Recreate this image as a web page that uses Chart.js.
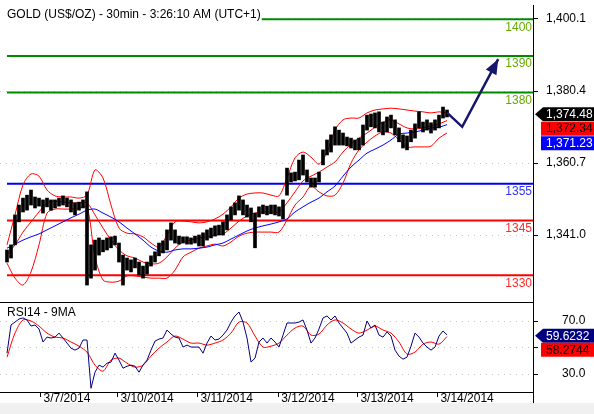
<!DOCTYPE html>
<html>
<head>
<meta charset="utf-8">
<script src="https://cdn.jsdelivr.net/npm/chart.js@4"></script>
<style>
  html, body { margin: 0; padding: 0; background: #fff; }
  #wrap { position: relative; width: 594px; height: 414px; overflow: hidden; }
  canvas { position: absolute; left: 0; }
  #price { top: 0; }
  #rsi { top: 302px; }
</style>
</head>
<body>
<div id="wrap">
  <canvas id="price" width="594" height="302"></canvas>
  <canvas id="rsi" width="594" height="112"></canvas>
</div>
<script>
// 30min bars, one sample every ~70 min (x = sample index)
const priceHigh = [1336.9,1338.3,1346.5,1349.2,1351.1,1351.9,1353.3,1351.4,1351.1,1350.6,
  1351.1,1350.6,1350.6,1351.1,1351.7,1351.1,1350.6,1349.8,1350.0,1350.6,
  1352.8,1338.3,1339.6,1340.2,1339.6,1340.2,1340.5,1340.7,1338.8,1335.5,
  1334.7,1334.2,1334.7,1333.6,1332.5,1333.6,1335.3,1336.4,1338.8,1339.4,
  1342.4,1344.3,1342.4,1340.7,1340.5,1340.5,1340.2,1340.7,1341.0,1341.6,
  1342.4,1342.9,1343.5,1343.7,1344.6,1346.5,1348.7,1349.8,1351.7,1350.6,
  1349.2,1348.4,1347.0,1348.7,1349.2,1348.9,1349.2,1349.2,1348.7,1350.6,
  1359.3,1358.0,1358.2,1361.5,1362.9,1358.8,1356.6,1356.6,1358.2,1364.3,
  1367.0,1368.4,1370.6,1369.7,1368.9,1367.8,1367.5,1367.0,1367.5,1371.1,
  1373.8,1374.1,1374.4,1374.7,1371.9,1373.3,1373.8,1372.5,1370.3,1368.4,
  1368.1,1369.7,1371.4,1374.7,1371.9,1372.5,1371.7,1372.5,1373.8,1376.0,
  1375.2];
const priceLow = [1333.6,1334.7,1338.3,1344.6,1347.3,1347.8,1349.2,1348.4,1348.9,1347.0,
  1348.7,1347.8,1348.4,1348.9,1349.2,1348.7,1347.3,1346.5,1347.8,1348.4,
  1327.3,1329.2,1331.4,1335.5,1336.4,1336.9,1337.5,1338.3,1333.6,1327.3,
  1331.4,1330.9,1332.0,1330.1,1329.2,1330.3,1332.5,1333.6,1335.3,1336.1,
  1336.9,1339.6,1338.8,1338.5,1338.8,1338.5,1338.5,1338.8,1338.0,1338.0,
  1339.6,1340.2,1340.7,1341.0,1341.0,1342.4,1345.1,1346.5,1347.8,1346.5,
  1345.9,1344.6,1337.5,1345.9,1346.8,1346.5,1346.8,1346.5,1346.2,1345.4,
  1351.9,1355.5,1355.8,1356.1,1357.4,1355.5,1354.1,1354.1,1355.5,1360.2,
  1362.9,1363.7,1365.6,1365.6,1365.6,1365.4,1364.8,1364.3,1364.3,1365.6,
  1369.7,1370.6,1370.3,1369.2,1368.4,1369.2,1370.3,1368.4,1366.5,1364.8,
  1364.3,1366.5,1367.5,1370.3,1369.2,1369.7,1368.9,1369.7,1370.3,1373.0,
  1373.3];

// bands and MA, one sample every 2 price samples
const upperBand = [1338.3,1346.5,1354.7,1357.7,1357.1,1353.3,1351.7,1351.4,1351.4,1351.1,
  1351.9,1358.8,1356.6,1349.2,1342.9,1341.5,1341.3,1340.5,1338.8,1337.7,
  1341.0,1344.6,1344.8,1344.6,1344.3,1344.6,1345.4,1346.7,1348.7,1351.1,
  1352.2,1352.5,1352.5,1351.9,1351.7,1356.6,1362.1,1363.7,1362.3,1360.4,
  1363.7,1369.7,1372.5,1373.0,1373.0,1374.4,1375.2,1375.5,1375.7,1375.5,
  1375.2,1374.9,1374.7,1374.4,1374.7,1374.4];
const middleBand = [1335.5,1338.3,1341.8,1344.6,1347.3,1349.8,1350.3,1350.0,1349.8,1349.8,
  1349.8,1346.5,1342.9,1339.6,1336.9,1335.3,1334.7,1333.6,1333.1,1333.3,
  1335.0,1337.4,1339.1,1339.6,1340.2,1340.5,1341.0,1341.3,1342.9,1344.8,
  1346.2,1347.0,1347.3,1347.3,1347.3,1349.8,1352.8,1355.8,1357.1,1358.2,
  1359.6,1361.0,1363.7,1365.9,1367.5,1368.9,1370.5,1371.9,1372.5,1371.4,
  1370.3,1370.0,1370.3,1370.8,1371.4,1372.3];
const lowerBand = [1333.3,1329.2,1327.3,1330.9,1338.3,1347.0,1348.1,1348.1,1348.1,1348.4,
  1348.7,1335.0,1328.7,1328.1,1328.4,1329.8,1329.8,1329.5,1329.2,1329.2,
  1329.2,1331.4,1335.0,1336.3,1337.4,1338.0,1338.5,1338.0,1339.1,1340.7,
  1341.5,1341.8,1341.8,1341.8,1341.8,1345.1,1349.2,1351.4,1354.4,1352.8,
  1351.7,1351.9,1355.2,1360.7,1364.3,1366.4,1368.1,1369.2,1368.9,1367.0,
  1365.1,1365.1,1365.1,1365.3,1367.5,1368.9];
const blueMA = [1337.4,1338.5,1339.6,1340.5,1341.3,1342.4,1343.5,1344.6,1345.7,1346.7,
  1347.8,1348.1,1347.0,1345.9,1344.6,1342.9,1341.3,1339.6,1337.7,1336.6,
  1336.3,1336.9,1337.2,1337.2,1337.4,1337.7,1338.3,1338.8,1339.9,1341.0,
  1342.1,1342.9,1343.5,1344.0,1344.6,1345.4,1347.3,1348.7,1350.0,1351.1,
  1352.8,1354.4,1357.1,1359.6,1361.5,1363.4,1364.5,1365.6,1367.0,1368.6,
  1368.9,1369.2,1369.7,1370.3,1370.5,1371.2];

const rsi = [45.8,67.0,69.2,71.5,72.3,70.8,66.2,67.0,64.0,54.2,
  57.9,57.2,57.9,60.9,57.2,53.4,49.6,48.1,49.6,55.7,
  55.7,19.4,31.5,36.8,35.3,38.3,39.1,45.8,40.6,34.5,
  36.0,36.8,36.0,31.5,36.8,40.6,48.1,54.9,56.4,57.2,
  63.2,60.2,57.9,57.2,50.4,51.9,50.4,50.4,50.4,45.8,
  53.4,58.7,55.7,56.4,59.4,63.2,69.2,73.8,76.8,69.2,
  57.2,39.1,42.1,54.2,57.2,53.4,57.2,54.2,50.4,59.4,
  68.5,68.5,68.5,69.2,70.8,63.2,53.4,57.2,64.0,72.3,
  73.8,70.8,73.8,68.5,64.7,60.9,53.4,55.7,57.9,59.4,
  70.0,64.7,67.0,59.4,57.9,61.7,58.7,48.1,43.6,41.3,
  42.8,51.1,60.9,57.9,53.4,50.4,48.1,50.4,58.7,62.5,
  59.6];
const rsiMA = [42.8,60.9,70.8,70.0,66.2,60.9,57.9,57.2,54.2,51.1,
  46.6,36.8,32.3,40.6,42.1,38.3,35.3,36.8,43.6,49.6,
  54.2,58.7,56.4,53.4,53.4,51.9,53.4,55.7,60.9,69.2,
  68.5,58.7,50.4,51.1,53.4,59.4,64.7,66.2,59.4,60.2,
  67.0,70.8,68.5,64.0,60.9,63.2,66.2,63.2,60.9,54.2,
  45.1,46.6,52.6,54.2,52.6,58.3];

const dayTicks = [8.4, 27.6, 47.6, 67.8, 87.6, 107.6];
const dayLabels = ['3/7/2014', '3/10/2014', '3/11/2014', '3/12/2014', '3/13/2014', '3/14/2014'];
const priceTicks = [1341.0, 1360.7, 1380.4, 1400.1];
const rsiTicks = [30, 50, 70];
const levels = [1400, 1390, 1380, 1355, 1345, 1330];
const levelColors = ['#008a00', '#008a00', '#008a00', '#0000ee', '#ff0000', '#ff0000'];
const levelTextColors = ['#66aa00', '#66aa00', '#66aa00', '#3333ff', '#ff2a2a', '#ff2a2a'];
const priceTags = [1374.48, 1372.34, 1371.23];
const rsiTags = [59.6232, 58.2744];
const arrowX = [110, 113.8, 122.8];
const arrowY = [1374.5, 1370.6, 1389.1];

const FONT = "'Liberation Sans', Arial, sans-serif";
Chart.defaults.font.family = FONT;
Chart.defaults.font.size = 12;
Chart.defaults.color = '#000';

const xMin = -1.75, xMax = 131.5;
const fmt = (v, d) => v.toLocaleString('en-US', {minimumFractionDigits: d, maximumFractionDigits: d});
const series = (ys, step) => ys.map((y, i) => ({x: i * step, y: y}));
const noPad = s => { s.paddingTop = 0; s.paddingBottom = 0; s.paddingLeft = 0; s.paddingRight = 0; };

function tag(ctx, y, text, bg, fg, arrow) {
  const h = 14;
  ctx.fillStyle = bg;
  ctx.beginPath();
  if (arrow) {
    ctx.moveTo(535, y);
    ctx.lineTo(543, y - h / 2);
    ctx.lineTo(594, y - h / 2);
    ctx.lineTo(594, y + h / 2);
    ctx.lineTo(543, y + h / 2);
  } else {
    ctx.rect(541, y - h / 2, 53, h);
  }
  ctx.closePath();
  ctx.fill();
  ctx.fillStyle = fg;
  ctx.textAlign = 'left';
  ctx.textBaseline = 'middle';
  ctx.fillText(text, 546, y + 0.5);
}

const priceDecor = {
  id: 'priceDecor',
  afterDraw(chart) {
    const {ctx, chartArea} = chart;
    const xs = chart.scales.x, ys = chart.scales.y;
    ctx.save();
    // arrow head
    const n = arrowX.length;
    const ax = xs.getPixelForValue(arrowX[n - 1]), ay = ys.getPixelForValue(arrowY[n - 1]);
    const bx = xs.getPixelForValue(arrowX[n - 2]), by = ys.getPixelForValue(arrowY[n - 2]);
    const a = Math.atan2(ay - by, ax - bx);
    const len = 15, half = 6;
    ctx.fillStyle = '#16166b';
    ctx.beginPath();
    ctx.moveTo(ax, ay);
    ctx.lineTo(ax - len * Math.cos(a) + half * Math.sin(a), ay - len * Math.sin(a) - half * Math.cos(a));
    ctx.lineTo(ax - len * Math.cos(a) - half * Math.sin(a), ay - len * Math.sin(a) + half * Math.cos(a));
    ctx.closePath();
    ctx.fill();

    // level labels
    ctx.font = '12px ' + FONT;
    ctx.textAlign = 'right';
    ctx.textBaseline = 'alphabetic';
    levels.forEach((v, i) => {
      ctx.fillStyle = levelTextColors[i];
      ctx.fillText(String(v), chartArea.right - 1, ys.getPixelForValue(v) + 11.5);
    });

    // title
    const title = 'GOLD (US$/OZ) - 30min - 3:26:10 AM (UTC+1)';
    const w = ctx.measureText(title).width;
    ctx.fillStyle = '#fff';
    ctx.fillRect(0, 0, 7 + w + 1, 21);
    ctx.fillStyle = '#000';
    ctx.textAlign = 'left';
    ctx.fillText(title, 7, 18);

    // last value tags
    const styles = [['#000', '#fff', true], ['#ff0000', '#000', false], ['#0000ff', '#fff', false]];
    let prev = -100;
    priceTags.forEach((v, i) => {
      const y = Math.max(ys.getPixelForValue(v) + 1.5, prev + 14.5);
      prev = y;
      tag(ctx, y, fmt(v, 2), styles[i][0], styles[i][1], styles[i][2]);
    });
    ctx.restore();
  }
};

const rsiDecor = {
  id: 'rsiDecor',
  beforeDraw(chart) {
    const ctx = chart.ctx;
    ctx.save();
    ctx.fillStyle = '#f0f0f0';
    ctx.fillRect(0, 101, 594, 11);
    ctx.restore();
  },
  afterDraw(chart) {
    const {ctx, chartArea} = chart;
    const ys = chart.scales.y;
    ctx.save();
    ctx.strokeStyle = '#000';
    ctx.lineWidth = 1;
    ctx.beginPath();
    ctx.moveTo(0, 0.5);
    ctx.lineTo(chartArea.right + 1, 0.5);
    ctx.moveTo(chartArea.right + 0.5, chartArea.bottom);
    ctx.lineTo(chartArea.right + 0.5, 101);
    ctx.stroke();

    ctx.font = '12px ' + FONT;
    ctx.fillStyle = '#000';
    ctx.textAlign = 'left';
    ctx.textBaseline = 'alphabetic';
    ctx.fillText('RSI14 - 9MA', 7, 13.7);

    const styles = [['#000080', '#fff', true], ['#ff0000', '#000', false]];
    let prev = -100;
    rsiTags.forEach((v, i) => {
      const y = Math.max(ys.getPixelForValue(v) + 1, prev + 14);
      prev = y;
      tag(ctx, y, v.toFixed(4), styles[i][0], styles[i][1], styles[i][2]);
    });
    ctx.restore();
  }
};

const levelSets = levels.map((v, i) => ({
  type: 'line',
  data: [{x: 0, y: v}, {x: xMax, y: v}],
  borderColor: levelColors[i],
  borderWidth: 2,
  pointRadius: 0,
  order: 6
}));

const bandLine = (ys, color, order) => ({
  type: 'line',
  data: series(ys, 2),
  borderColor: color,
  borderWidth: 1,
  pointRadius: 0,
  tension: 0.3,
  order: order
});

new Chart(document.getElementById('price'), {
  type: 'line',
  data: {
    datasets: [
      ...levelSets,
      bandLine(upperBand, '#ff0000', 5),
      bandLine(middleBand, '#ff0000', 5),
      bandLine(lowerBand, '#ff0000', 5),
      bandLine(blueMA, '#0000ff', 4),
      {
        type: 'bar',
        data: priceHigh.map((h, i) => ({x: i, y: [priceLow[i], h]})),
        backgroundColor: '#000',
        barThickness: 3,
        order: 2
      },
      {
        type: 'line',
        data: arrowX.map((x, i) => ({x: x, y: arrowY[i]})),
        borderColor: '#16166b',
        borderWidth: 2.5,
        pointRadius: 0,
        tension: 0,
        order: 1
      }
    ]
  },
  options: {
    responsive: false,
    animation: false,
    events: [],
    layout: {padding: {top: 5, left: 0, right: 0, bottom: 0}},
    plugins: {legend: {display: false}, tooltip: {enabled: false}},
    scales: {
      x: {type: 'linear', min: xMin, max: xMax, display: false, offset: false},
      y: {
        type: 'linear',
        position: 'right',
        min: 1322.67,
        max: 1403.93,
        beginAtZero: false,
        afterFit: s => { s.width = 61; noPad(s); },
        afterBuildTicks: s => { s.ticks = priceTicks.map(v => ({value: v})); },
        ticks: {padding: 8, color: '#000', callback: v => fmt(v, 1)},
        grid: {color: '#c4c4c4', tickColor: '#000', tickLength: 5, tickBorderDash: []},
        border: {display: true, color: '#000', width: 1, dash: [1, 5]}
      }
    }
  },
  plugins: [priceDecor]
});

new Chart(document.getElementById('rsi'), {
  type: 'line',
  data: {
    datasets: [
      {data: series(rsiMA, 2), borderColor: '#ff0000', borderWidth: 1, pointRadius: 0, tension: 0.3, order: 2},
      {data: series(rsi, 1), borderColor: '#000080', borderWidth: 1, pointRadius: 0, tension: 0, order: 1}
    ]
  },
  options: {
    responsive: false,
    animation: false,
    events: [],
    layout: {padding: 0},
    plugins: {legend: {display: false}, tooltip: {enabled: false}},
    scales: {
      x: {
        type: 'linear',
        min: xMin,
        max: xMax,
        offset: false,
        position: 'bottom',
        afterFit: s => { s.height = 22; noPad(s); },
        afterBuildTicks: s => { s.ticks = dayTicks.map(v => ({value: v})); },
        ticks: {
          align: 'start', labelOffset: 3, padding: -6, maxRotation: 0, autoSkip: false, color: '#000',
          callback: (v, i) => dayLabels[i]
        },
        grid: {drawOnChartArea: false, drawTicks: true, tickLength: 5, tickColor: '#000', offset: false},
        border: {display: true, color: '#000', width: 1}
      },
      y: {
        type: 'linear',
        position: 'right',
        min: 16.6,
        max: 84.3,
        afterFit: s => { s.width = 61; noPad(s); },
        afterBuildTicks: s => { s.ticks = rsiTicks.map(v => ({value: v})); },
        ticks: {padding: 24, color: '#000', callback: v => (v === 50 ? '' : v.toFixed(1))},
        grid: {color: '#c4c4c4', tickColor: '#000', tickLength: 5, tickBorderDash: []},
        border: {display: true, color: '#000', width: 1, dash: [1, 5]}
      }
    }
  },
  plugins: [rsiDecor]
});
</script>
</body>
</html>
